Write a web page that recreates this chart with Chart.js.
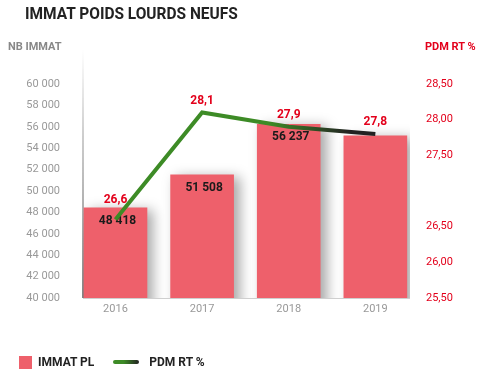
<!DOCTYPE html>
<html>
<head>
<meta charset="utf-8">
<script src="https://cdn.jsdelivr.net/npm/chart.js@4.4.0/dist/chart.umd.min.js"></script>
<style>
  body { margin: 0; background: #fff; font-family: Roboto, sans-serif; }
  .wrap { position: relative; width: 495px; height: 386px; }
  canvas { position: absolute; left: 0; top: 0; }
  .title { position: absolute; left: 25px; top: 3px; font-size: 17px; font-weight: 700; color: #222; transform: scaleX(0.91); transform-origin: left top; }
  .axt { position: absolute; top: 40px; font-size: 11px; font-weight: 700; }
  .legend { position: absolute; top: 355px; left: 19px; font-size: 12px; font-weight: 700; color: #222; display: flex; align-items: center; }
  .legend .sq { width: 13px; height: 13px; background: #ee606b; margin-right: 6px; }
  .legend .ln { width: 26px; height: 4px; border-radius: 2px; background: linear-gradient(90deg, #3d8b26 40%, #222 100%); margin: 0 10px 0 19px; }
</style>
</head>
<body>
<div class="wrap">
  <canvas id="immatchart" width="495" height="386"></canvas>
  <div class="title">IMMAT POIDS LOURDS NEUFS</div>
  <div class="axt" style="left:8px;color:#888">NB IMMAT</div>
  <div class="axt" style="left:425px;color:#e3001b">PDM RT %</div>
  <div class="legend"><span class="sq"></span>IMMAT PL<span class="ln"></span>PDM RT %</div>
</div>
<script>
const years = [2016, 2017, 2018, 2019];
const immatPL = [48418, 51508, 56237, 55150];
const pdmRT = [26.6, 28.1, 27.9, 27.8];
const leftTicks = [40000, 42000, 44000, 46000, 48000, 50000, 52000, 54000, 56000, 58000, 60000];
const rightTicks = [25.5, 26, 26.5, 27.5, 28, 28.5];

const fmtInt = v => String(v).replace(/\B(?=(\d{3})+(?!\d))/g, ' ');
const fmtDec = (v, d) => v.toFixed(d).replace('.', ',');

const decor = {
  id: 'decor',
  beforeDatasetDraw(chart, args) {
    if (args.index === 0) {
      const ctx = chart.ctx;
      ctx.save();
      ctx.shadowColor = 'rgba(0,0,0,0.35)';
      ctx.shadowBlur = 12;
      ctx.shadowOffsetX = 6;
      ctx.shadowOffsetY = 2;
    }
  },
  afterDatasetDraw(chart, args) {
    const ctx = chart.ctx;
    if (args.index === 0) {
      ctx.restore();
      ctx.save();
      ctx.font = 'bold 12px Roboto';
      ctx.fillStyle = '#1a1a1a';
      ctx.textAlign = 'center';
      ctx.textBaseline = 'middle';
      args.meta.data.forEach((bar, i) => {
        if (i < 3) ctx.fillText(fmtInt(immatPL[i]), bar.x + 2, bar.y + 13);
      });
      ctx.restore();
    }
  },
  beforeDatasetsDraw(chart) {
    const ctx = chart.ctx, a = chart.chartArea;
    ctx.save();
    const g = ctx.createLinearGradient(0, a.top - 34, 0, a.bottom);
    g.addColorStop(0, 'rgba(120,120,120,0)');
    g.addColorStop(0.35, 'rgba(120,120,120,0.5)');
    g.addColorStop(1, 'rgba(90,90,90,1)');
    ctx.strokeStyle = g;
    ctx.lineWidth = 1.5;
    ctx.beginPath();
    ctx.moveTo(a.left, a.top - 34);
    ctx.lineTo(a.left, a.bottom);
    ctx.stroke();
    ctx.strokeStyle = '#cfcfcf';
    ctx.lineWidth = 1;
    ctx.beginPath();
    ctx.moveTo(a.left, a.bottom + 0.5);
    ctx.lineTo(a.right, a.bottom + 0.5);
    ctx.stroke();
    ctx.restore();
  },
  afterDatasetsDraw(chart) {
    const ctx = chart.ctx;
    const meta = chart.getDatasetMeta(1);
    ctx.save();
    ctx.font = 'bold 12px Roboto';
    ctx.fillStyle = '#e3001b';
    ctx.textAlign = 'center';
    ctx.textBaseline = 'middle';
    meta.data.forEach((pt, i) => {
      ctx.fillText(fmtDec(pdmRT[i], 1), pt.x, pt.y - (i === 0 ? 20 : 12));
    });
    ctx.restore();
  }
};

new Chart(document.getElementById('immatchart'), {
  data: {
    datasets: [
      {
        type: 'bar',
        label: 'IMMAT PL',
        data: years.map((y, i) => ({ x: y, y: immatPL[i] })),
        backgroundColor: '#ee606b',
        barThickness: 63,
        yAxisID: 'y',
        order: 1
      },
      {
        type: 'line',
        label: 'PDM RT %',
        data: years.map((y, i) => ({ x: y, y: pdmRT[i] })),
        borderColor: ctx => {
          const c = ctx.chart, a = c.chartArea;
          if (!a) return '#3d8b26';
          const xs = c.scales.x;
          const g = c.ctx.createLinearGradient(xs.getPixelForValue(2018) - 20, 0, xs.getPixelForValue(2019) - 25, 0);
          g.addColorStop(0, '#3d8b26');
          g.addColorStop(1, '#222');
          return g;
        },
        borderWidth: 4,
        pointRadius: 0,
        tension: 0,
        yAxisID: 'y1',
        order: 0
      }
    ]
  },
  options: {
    responsive: false,
    animation: false,
    layout: { padding: { top: 84, left: 0, right: 0, bottom: 0 } },
    plugins: { legend: { display: false }, tooltip: { enabled: false } },
    scales: {
      x: {
        type: 'linear',
        offset: false,
        min: 2015.625,
        max: 2019.4,
        grid: { display: false, drawTicks: false },
        border: { display: false },
        afterBuildTicks: s => { s.ticks = years.map(v => ({ value: v })); },
        afterFit: s => { s.height = 88; },
        ticks: { color: '#999', font: { size: 11, family: 'Roboto' }, padding: 5, callback: v => String(v) }
      },
      y: {
        position: 'left',
        min: 40000,
        max: 60000,
        grid: { display: false, drawTicks: false },
        border: { display: false },
        afterBuildTicks: s => { s.ticks = leftTicks.map(v => ({ value: v })); },
        afterFit: s => { s.width = 83; },
        ticks: { color: '#999', font: { size: 11, family: 'Roboto' }, padding: 23, callback: v => fmtInt(v) }
      },
      y1: {
        position: 'right',
        min: 25.5,
        max: 28.5,
        grid: { display: false, drawTicks: false },
        border: { display: false },
        afterBuildTicks: s => { s.ticks = rightTicks.map(v => ({ value: v })); },
        afterFit: s => { s.width = 85; },
        ticks: { color: '#e3001b', font: { size: 11, family: 'Roboto' }, padding: 16, callback: v => fmtDec(v, 2) }
      }
    }
  },
  plugins: [decor]
});
</script>
</body>
</html>
